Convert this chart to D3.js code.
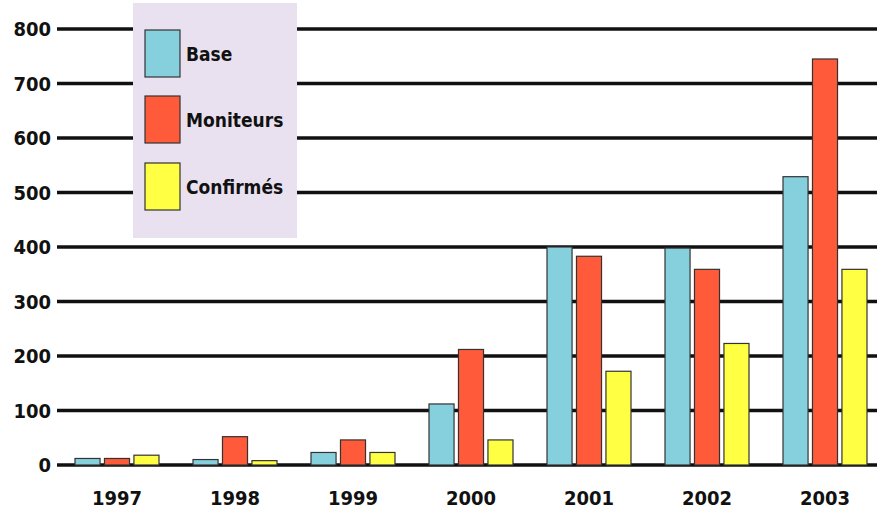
<!DOCTYPE html>
<html><head><meta charset="utf-8">
<script src="https://cdn.jsdelivr.net/npm/d3@7"></script>
<style>body{margin:0;background:#fff}</style>
</head><body>
<svg id="c" width="877" height="519"></svg>
<script>
const years = ["1997","1998","1999","2000","2001","2002","2003"];
const seriesNames = ["Base","Moniteurs","Confirmés"];
const base = [12,10,23,112,400,398,529];
const moniteurs = [12,52,46,212,383,359,745];
const confirmes = [18,8,23,46,172,223,359];
const yTicks = [0,100,200,300,400,500,600,700,800];
const colors = ["#86d0de","#ff5a3a","#ffff44"];

const svg = d3.select("#c");
const font = "'Liberation Sans Narrow','DejaVu Sans Condensed',sans-serif";
const y = d3.scaleLinear().domain([0,800]).range([465,29]);
const x = d3.scaleBand().domain(years).range([58,884]).padding(0);
const inner = d3.scaleBand().domain(seriesNames).range([-42,42]).paddingInner(0.15);

// gridlines
svg.append("g").selectAll("line").data(yTicks).join("line")
  .attr("x1",57).attr("x2",877).attr("y1",d=>y(d)).attr("y2",d=>y(d))
  .attr("stroke","#111").attr("stroke-width",3.5);

// y labels
svg.append("g").selectAll("text").data(yTicks).join("text")
  .attr("x",51).attr("y",d=>y(d)).attr("dy","0.36em").attr("text-anchor","end")
  .attr("font-family",font).attr("font-weight","bold").attr("font-size",20)
  .attr("fill","#111").text(d=>d);

// legend box (covers gridlines)
const lg = svg.append("g");
lg.append("rect").attr("x",133).attr("y",3).attr("width",164).attr("height",235).attr("fill","#e9e1f0");
seriesNames.forEach((s,i)=>{
  const yy = [30,96,163][i];
  lg.append("rect").attr("x",145).attr("y",yy).attr("width",35).attr("height",47)
    .attr("fill",colors[i]).attr("stroke","#333").attr("stroke-width",1.2);
  lg.append("text").attr("x",186).attr("y",yy+24).attr("dy","0.36em")
    .attr("font-family",font).attr("font-weight","bold").attr("font-size",19)
    .attr("fill","#111").text(s);
});

// bars
const data = [base,moniteurs,confirmes];
data.forEach((vals,si)=>{
  svg.append("g").selectAll("rect").data(vals).join("rect")
    .attr("x",(d,i)=>x(years[i])+x.bandwidth()/2+inner(seriesNames[si]))
    .attr("width",inner.bandwidth())
    .attr("y",d=>y(d)).attr("height",d=>y(0)-y(d))
    .attr("fill",colors[si]).attr("stroke","#333").attr("stroke-width",1.2);
});

// x labels
svg.append("g").selectAll("text").data(years).join("text")
  .attr("x",d=>x(d)+x.bandwidth()/2).attr("y",498).attr("dy","0.36em")
  .attr("text-anchor","middle").attr("font-family",font).attr("font-weight","bold")
  .attr("font-size",20).attr("fill","#111").text(d=>d);
</script>
</body></html>
